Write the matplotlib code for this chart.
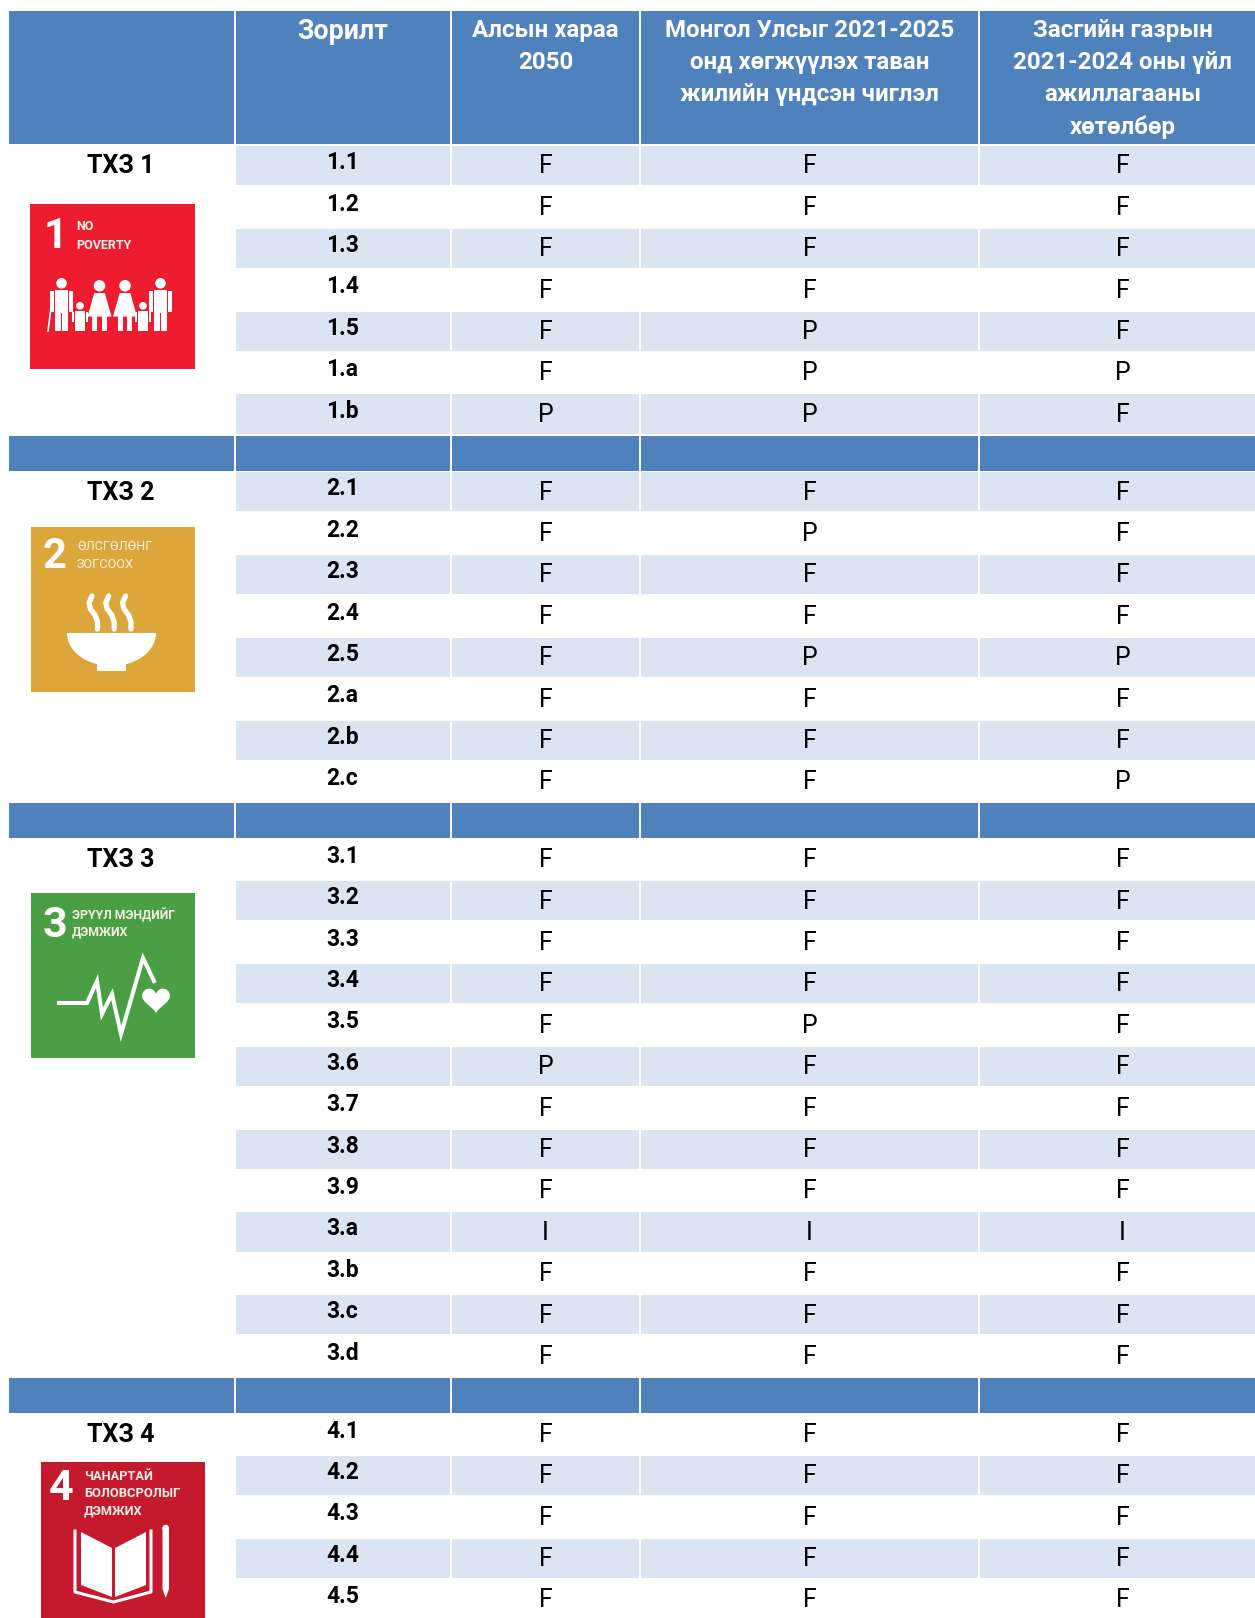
import numpy as np
import matplotlib
matplotlib.use("Agg")
import matplotlib.pyplot as plt
from matplotlib.patches import Rectangle, Circle, Polygon

FONT = "Roboto"

# ---------- data ----------
headers = [
    "Зорилт",
    "Алсын хараа\n2050",
    "Монгол Улсыг 2021-2025\nонд хөгжүүлэх таван\nжилийн үндсэн чиглэл",
    "Засгийн газрын\n2021-2024 оны үйл\nажиллагааны\nхөтөлбөр",
]
section_names = ["ТХЗ 1", "ТХЗ 2", "ТХЗ 3", "ТХЗ 4"]

goals_1 = ["1.1", "1.2", "1.3", "1.4", "1.5", "1.a", "1.b"]
vision_1 = list("FFFFFFP")
plan_1 = list("FFFFPPP")
gov_1 = list("FFFFFPF")

goals_2 = ["2.1", "2.2", "2.3", "2.4", "2.5", "2.a", "2.b", "2.c"]
vision_2 = list("FFFFFFFF")
plan_2 = list("FPFFPFFF")
gov_2 = list("FFFFPFFP")

goals_3 = ["3.1", "3.2", "3.3", "3.4", "3.5", "3.6", "3.7", "3.8", "3.9", "3.a", "3.b", "3.c", "3.d"]
vision_3 = list("FFFFFPFFFIFFF")
plan_3 = list("FFFFPFFFFIFFF")
gov_3 = list("FFFFFFFFFIFFF")

goals_4 = ["4.1", "4.2", "4.3", "4.4", "4.5"]
vision_4 = list("FFFFF")
plan_4 = list("FFFFF")
gov_4 = list("FFFFF")

sections = [
    (goals_1, vision_1, plan_1, gov_1, 1),
    (goals_2, vision_2, plan_2, gov_2, 1),
    (goals_3, vision_3, plan_3, gov_3, 0),
    (goals_4, vision_4, plan_4, gov_4, 0),
]

# ---------- layout ----------
W, H = 1255, 1618
BLUE, PALE = "#4F81BD", "#DBE5F1"
col_edges = [(9, 234), (236, 450), (452, 639), (641, 978), (980, 1265)]
PITCH = 41.4
ROW_H = 39.2
BAND_H = 35

fig = plt.figure(figsize=(W / 100, H / 100), dpi=100)
ax = fig.add_axes([0, 0, 1, 1])
ax.set_xlim(0, W)
ax.set_ylim(H, 0)
ax.axis("off")


def cell(col, y, h, color):
    x0, x1 = col_edges[col]
    ax.add_patch(Rectangle((x0, y), x1 - x0, h, fc=color, ec="none", zorder=1))


def cx(col):
    return sum(col_edges[col]) / 2


# header
for c in range(5):
    cell(c, 11, 133, BLUE)
for c, head in enumerate(headers, start=1):
    for j, line in enumerate(head.split("\n")):
        ax.text(cx(c), (31 if c == 1 else 30) + 32.4 * j, line, ha="center", va="center",
                color="white", fontsize=19.3 if c == 1 else 17.4, fontweight="bold",
                family=FONT, zorder=3)

# body
y = 146.0
section_tops = []
for s, (goals, vision, plan, gov, first_shaded) in enumerate(sections):
    section_tops.append(y)
    for i, goal in enumerate(goals):
        ry = y + i * PITCH
        if i % 2 == (0 if first_shaded else 1):
            for c in range(1, 5):
                cell(c, ry, ROW_H, PALE)
        ax.text(cx(1) - 0.5, ry + 16.6, goal, ha="center", va="center", color="black",
                fontsize=16.5, fontweight="bold", family=FONT, zorder=3)
        for c, vals in zip((2, 3, 4), (vision, plan, gov)):
            ax.text(cx(c), ry + 20.4, vals[i], ha="center", va="center", color="black",
                    fontsize=18, family=FONT, zorder=3)
    ax.text(121, y + 20.4, section_names[s], ha="center", va="center", color="black",
            fontsize=18, fontweight="bold", family=FONT, zorder=3)
    y += len(goals) * PITCH
    if s < len(sections) - 1:
        for c in range(5):
            cell(c, y, BAND_H, BLUE)
        y += BAND_H + 1.4


# ---------- icons ----------
def square(x, y, w, h, color):
    ax.add_patch(Rectangle((x, y), w, h, fc=color, ec="none", zorder=2))


def caption(x, y, s, size=10, weight="normal"):
    ax.text(x, y, s, ha="left", va="center", color="#F6F1E8", fontsize=size,
            fontweight=weight, family=FONT, zorder=4)


def numeral(x, y, s, size=30):
    ax.text(x, y, s, ha="center", va="center", color="white", fontsize=size,
            fontweight="bold", family=FONT, zorder=4)


def poly(pts, **kw):
    ax.add_patch(Polygon(pts, closed=True, fc="white", ec="none", zorder=4, **kw))


def person(x, top, w, foot, dress=False):
    r = w * 0.24
    ax.add_patch(Circle((x, top + r), r, fc="white", ec="none", zorder=4))
    t = top + 2 * r + 1.5
    if dress:
        poly([(x - w * .22, t), (x + w * .22, t), (x + w * .5, t + (foot - t) * .62),
              (x - w * .5, t + (foot - t) * .62)])
        for d in (-.2, .2):
            ax.add_patch(Rectangle((x + d * w - w * .11, t + (foot - t) * .55), w * .22,
                                   (foot - t) * .45, fc="white", ec="none", zorder=4))
    else:
        ax.add_patch(Rectangle((x - w * .3, t), w * .6, (foot - t) * .55, fc="white",
                               ec="none", zorder=4))
        for d in (-.16, .16):
            ax.add_patch(Rectangle((x + d * w - w * .13, t + (foot - t) * .5), w * .26,
                                   (foot - t) * .5, fc="white", ec="none", zorder=4))
        for d in (-.44, .44):
            ax.add_patch(Rectangle((x + d * w - w * .08, t + 1), w * .16, (foot - t) * .52,
                                   fc="white", ec="none", zorder=4))


# Goal 1
square(30, 204, 165, 165, "#ED1C2E")
numeral(56, 236, "1", 30)
caption(76.5, 226.5, "NO", 9, "bold")
caption(76.5, 245.5, "POVERTY", 9, "bold")
person(61.5, 278, 22, 331)
person(80, 302, 16, 331)
person(99.5, 280, 24, 331, True)
person(125, 280, 24, 331, True)
person(143, 302, 16, 331)
person(160.5, 278, 22, 331)
ax.plot([52, 48], [300, 331], color="white", lw=1.2, zorder=4)

# Goal 2
square(31, 527, 164, 165, "#DDA63A")
numeral(55, 557, "2", 30)
caption(77, 547, "ӨЛСГӨЛӨНГ", 9.2)
caption(77, 564, "ЗОГСООХ", 9.2)
for dx in (0, 16.7, 33.5):
    ax.plot(np.array([92, 89, 90.5, 95, 97.5, 97.5]) + dx, [596, 603, 609, 615, 622, 629],
            color="white", lw=3.8, zorder=4, solid_capstyle="round")
t = np.linspace(0, np.pi, 60)
poly(np.column_stack([111.5 + 44.5 * np.cos(t), 633 + 33 * np.sin(t)]))
poly([(97, 662), (126, 662), (126, 671), (97, 671)])

# Goal 3
square(31, 893, 164, 165, "#4A9E44")
numeral(54.5, 925, "3", 31)
caption(72, 915, "ЭРҮҮЛ МЭНДИЙГ", 8.8, "bold")
caption(72, 932, "ДЭМЖИХ", 8.8, "bold")
ax.plot([59, 87, 97, 102, 112, 121, 143, 154], [1003, 1003, 981, 1014, 994, 1034, 958, 981],
        color="white", lw=2.9, zorder=4, solid_joinstyle="miter")
t = np.linspace(0, 2 * np.pi, 100)
poly(np.column_stack([156 + 0.87 * 16 * np.sin(t) ** 3,
                      999 - 0.87 * (13 * np.cos(t) - 5 * np.cos(2 * t)
                                    - 2 * np.cos(3 * t) - np.cos(4 * t))]))

# Goal 4
square(41, 1462, 164, 170, "#C5192D")
numeral(61, 1489, "4", 31)
caption(84, 1476, "ЧАНАРТАЙ", 9.2, "bold")
caption(84, 1493.5, "БОЛОВСРОЛЫГ", 9.4, "bold")
caption(84, 1511, "ДЭМЖИХ", 9.2, "bold")
poly([(81, 1532), (112, 1548), (112, 1597), (81, 1585)])
poly([(115, 1548), (146, 1532), (146, 1585), (115, 1597)])
ax.plot([75, 75, 113.5, 151, 151], [1531, 1592, 1602, 1592, 1531], color="white", lw=2.2, zorder=4)
poly([(162.5, 1527), (169, 1527), (169, 1589), (165.7, 1598), (162.5, 1589)])
ax.add_patch(Circle((165.7, 1528), 3.3, fc="white", ec="none", zorder=4))

fig.savefig("out.png", dpi=100, facecolor="white")
